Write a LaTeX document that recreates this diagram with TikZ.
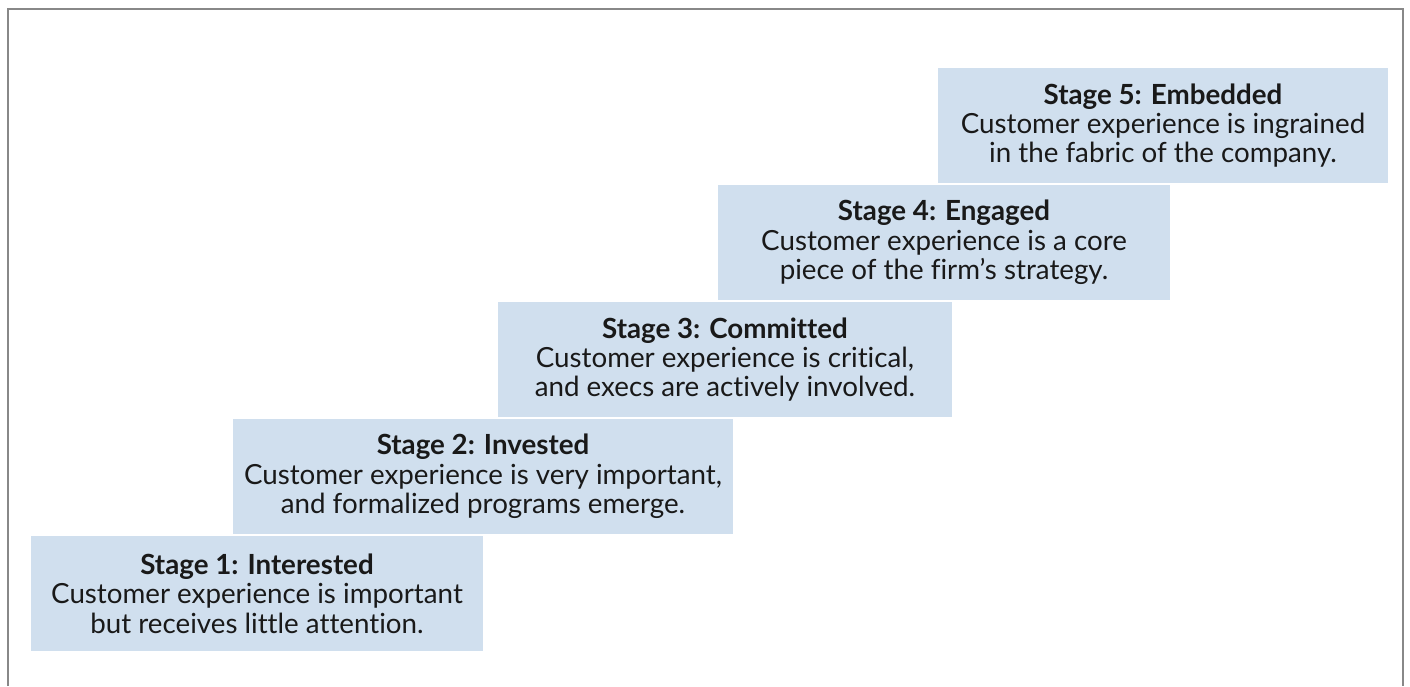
\documentclass[tikz,border=0pt]{standalone}
\usepackage{fontspec}
\setmainfont[Ligatures=NoCommon]{Lato}
\usetikzlibrary{positioning}

\definecolor{stagefill}{RGB}{208,223,238}
\definecolor{framegray}{RGB}{136,136,136}

\begin{document}
\begin{tikzpicture}[
    x=0.75pt,y=-0.75pt,
    stage/.style={fill=stagefill,align=center,inner sep=0pt,
        minimum height=86.25pt,text=black!90,
        font=\fontsize{20.8}{22}\selectfont},
    frame/.style={framegray,line width=1.9pt}
]
\useasboundingbox (0,0) rectangle (1410,686);

\draw[frame] (8,686) -- (8,9) -- (1403,9) -- (1403,686);

\node[stage,minimum width=339pt] (s1) at (257,593.5)
    {\textbf{Stage 1: Interested}\\Customer experience is important\\but receives little attention.};
\node[stage,minimum width=375pt] (s2) at (483,476.5)
    {\textbf{Stage 2: Invested}\\Customer experience is very important,\\and formalized programs emerge.};
\node[stage,minimum width=340.5pt] (s3) at (725,359.5)
    {\textbf{Stage 3: Committed}\\Customer experience is critical,\\and execs are actively involved.};
\node[stage,minimum width=339pt] (s4) at (944,242.5)
    {\textbf{Stage 4: Engaged}\\Customer experience is a core\\piece of the firm’s strategy.};
\node[stage,minimum width=337.5pt] (s5) at (1163,125.5)
    {\textbf{Stage 5: Embedded}\\Customer experience is ingrained\\in the fabric of the company.};
\end{tikzpicture}
\end{document}
